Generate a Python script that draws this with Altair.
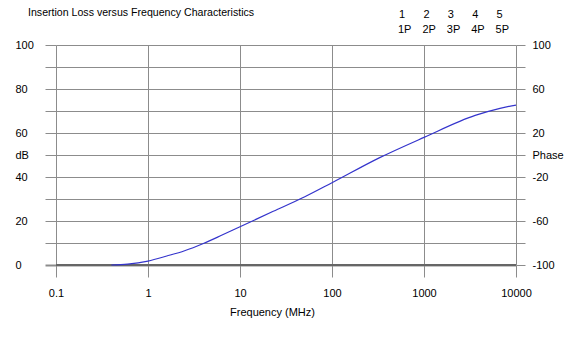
import altair as alt
import pandas as pd

# ---- data ----
freq_mhz = [0.4, 0.6, 1, 1.6, 2.5, 4, 6.3, 10, 23, 50, 100, 330, 1000, 3600, 6700, 10000]
loss_db = [0.0, 0.4, 1.8, 4.1, 6.5, 9.8, 13.5, 17.4, 24.4, 30.9, 37.4, 48.8, 58.0, 68.0, 71.2, 72.7]
x_ticks = [0.1, 1, 10, 100, 1000, 10000]
db_ticks = [0, 10, 20, 30, 40, 50, 60, 70, 80, 90, 100]
phase_ticks = [-100, -80, -60, -40, -20, 0, 20, 40, 60, 80, 100]
legend_top = ["1", "2", "3", "4", "5"]
legend_bottom = ["1P", "2P", "3P", "4P", "5P"]
title_text = "Insertion Loss versus Frequency Characteristics"
x_title = "Frequency (MHz)"

FONT = "Liberation Sans"
GRID = "#8c8c8c"
W, H = 460, 220

curve = pd.DataFrame({"f": freq_mhz, "db": loss_db})
phase_df = pd.DataFrame({"p": [min(phase_ticks), max(phase_ticks)]})

x_enc = alt.X(
    "f:Q",
    scale=alt.Scale(type="log", domain=[x_ticks[0], x_ticks[-1]]),
    axis=alt.Axis(
        values=x_ticks, labelExpr="'' + datum.value", grid=True, gridColor=GRID,
        gridOpacity=1, tickColor=GRID, tickSize=12, domain=False,
        labelFont=FONT, labelFontSize=11, labelColor="black", labelPadding=10,
        labelFlush=False, labelOverlap=False,
        title=x_title, titleFont=FONT, titleFontSize=11, titleFontWeight="normal",
        titleColor="black", titlePadding=8, titleX=216,
    ),
)

line = alt.Chart(curve).mark_line(color="#3434cc", strokeWidth=1.2, interpolate="monotone").encode(
    x=x_enc,
    y=alt.Y(
        "db:Q",
        scale=alt.Scale(domain=[0, 100], nice=False, zero=False),
        axis=alt.Axis(
            values=db_ticks, orient="left",
            labelExpr="datum.value == 50 ? 'dB' : (datum.value % 20 == 0 ? '' + datum.value : '')",
            grid=True, gridColor=GRID, gridOpacity=1,
            gridWidth={"condition": {"test": "datum.value == 0", "value": 2}, "value": 1},
            tickWidth={"condition": {"test": "datum.value == 0", "value": 2}, "value": 1},
            tickColor=GRID, tickSize=11, domain=False,
            labelAlign="left", labelBaseline="middle", labelPadding=30,
            labelFont=FONT, labelFontSize=11, labelColor="black", labelFlush=False,
            labelOverlap=False, title=None,
        ),
    ),
)

phase = alt.Chart(phase_df).mark_point(opacity=0).encode(
    y=alt.Y(
        "p:Q",
        scale=alt.Scale(domain=[-100, 100], nice=False, zero=False),
        axis=alt.Axis(
            values=phase_ticks, orient="right",
            labelExpr="datum.value == 0 ? 'Phase' : ((datum.value + 100) % 40 == 0 ? '' + datum.value : '')",
            grid=False, tickColor=GRID, tickSize=9, domain=False,
            labelAlign="left", labelBaseline="middle", labelPadding=7,
            labelFont=FONT, labelFontSize=11, labelColor="black", labelFlush=False,
            labelOverlap=False, title=None,
        ),
    ),
)

base_line = alt.Chart(pd.DataFrame({"z": [0]})).mark_rule(color="#666666", strokeWidth=2).encode(
    y=alt.Y("z:Q", scale=alt.Scale(domain=[0, 100], nice=False, zero=False), axis=None),
    x=alt.value(0), x2=alt.value(W),
)

texts = []
texts.append(
    alt.Chart(pd.DataFrame({"t": [title_text]})).mark_text(
        align="left", baseline="middle", font=FONT, fontSize=10.6, color="black"
    ).encode(text="t:N", x=alt.value(28 - 56), y=alt.value(13 - 45))
)
for i, (a, b) in enumerate(zip(legend_top, legend_bottom)):
    xpos = 342 + i * 24.4
    texts.append(
        alt.Chart(pd.DataFrame({"t": [a]})).mark_text(
            align="left", baseline="middle", font=FONT, fontSize=11, color="black"
        ).encode(text="t:N", x=alt.value(xpos + 1), y=alt.value(15 - 45))
    )
    texts.append(
        alt.Chart(pd.DataFrame({"t": [b]})).mark_text(
            align="left", baseline="middle", font=FONT, fontSize=11, color="black"
        ).encode(text="t:N", x=alt.value(xpos), y=alt.value(30 - 45))
    )

chart = alt.layer(base_line, line, phase, *texts).resolve_scale(y="independent").properties(
    width=W, height=H,
    autosize=alt.AutoSizeParams(type="none"),
    padding={"left": 56, "top": 45, "right": 60, "bottom": 88},
    background="white",
).configure_view(stroke=None)

chart.save("out.html", embed_options={"renderer": "svg", "actions": False})
